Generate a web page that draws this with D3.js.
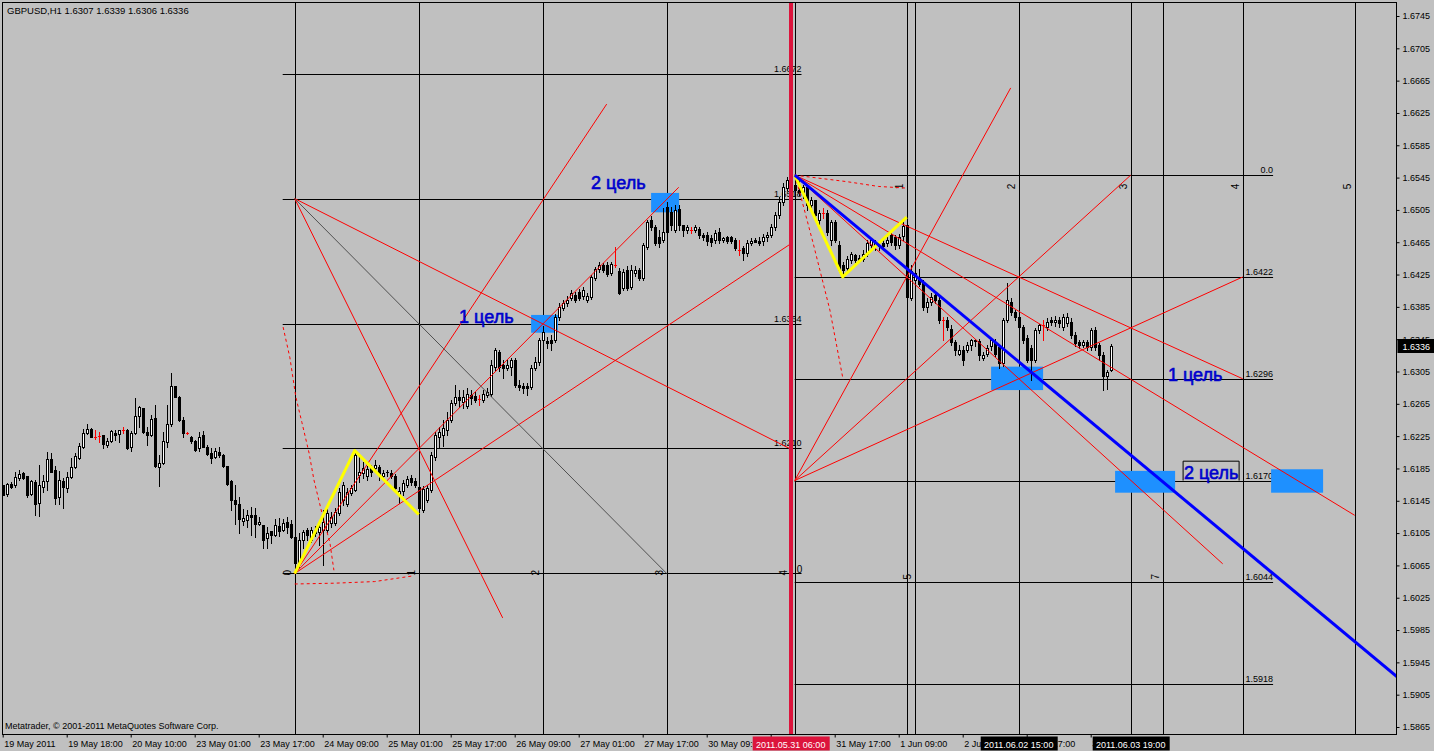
<!DOCTYPE html>
<html><head><meta charset="utf-8">
<script src="https://cdn.jsdelivr.net/npm/d3@7"></script>
<style>
body{margin:0;background:#c0c0c0;}
svg{display:block;font-family:"Liberation Sans",Arial,sans-serif;}
</style></head>
<body><svg id="c" width="1434" height="751"></svg>
<script>
// ---------------- DATA ----------------
const symbolTitle = "GBPUSD,H1  1.6307 1.6339 1.6306 1.6336";
const copyright = "Metatrader, \u00A9 2001-2011 MetaQuotes Software Corp.";
// hourly candles, [open, high, low, close] in pips (price*10000)
const ohlcPips = [
[16165,16165,16152,16152],[16153,16167,16151,16166],[16166,16168,16161,16162],[16165,16180,16162,16175],[16173,16183,16171,16178],
[16179,16181,16172,16173],[16176,16176,16150,16152],[16153,16171,16152,16169],[16168,16171,16127,16141],[16142,16189,16126,16165],
[16162,16177,16156,16169],[16169,16205,16158,16197],[16197,16204,16180,16181],[16183,16188,16141,16148],[16150,16182,16141,16171],
[16169,16173,16136,16162],[16161,16180,16156,16175],[16175,16198,16173,16187],[16187,16204,16185,16200],[16198,16217,16197,16213],
[16212,16234,16210,16229],[16229,16240,16228,16234],[16234,16235,16224,16224],[16224,16233,16221,16224],[16225,16230,16218,16225],
[16226,16227,16210,16215],[16214,16223,16212,16219],[16219,16232,16218,16231],[16229,16232,16220,16226],[16228,16233,16218,16232],
[16233,16236,16229,16233],[16232,16234,16209,16210],[16212,16231,16206,16229],[16229,16272,16228,16250],[16250,16262,16236,16261],
[16260,16260,16229,16230],[16230,16236,16214,16226],[16226,16251,16225,16246],[16248,16264,16187,16188],[16187,16202,16163,16192],
[16192,16230,16191,16219],[16218,16264,16212,16240],[16240,16303,16238,16287],[16287,16287,16273,16273],[16273,16275,16244,16245],
[16245,16249,16224,16229],[16229,16230,16228,16229],[16224,16225,16217,16219],[16219,16220,16207,16208],[16210,16230,16207,16224],
[16226,16231,16212,16212],[16212,16214,16202,16203],[16204,16210,16192,16198],[16199,16210,16198,16207],[16205,16212,16199,16202],
[16202,16203,16187,16188],[16188,16188,16165,16166],[16170,16171,16134,16146],[16146,16165,16116,16141],[16141,16150,16105,16122],
[16120,16135,16115,16124],[16121,16134,16113,16127],[16127,16137,16103,16125],[16127,16136,16100,16116],[16116,16125,16115,16119],
[16115,16115,16086,16097],[16099,16113,16086,16105],[16107,16107,16093,16103],[16103,16122,16101,16115],[16114,16124,16101,16108],
[16109,16122,16108,16118],[16119,16125,16105,16113],[16116,16121,16099,16100],[16100,16103,16066,16068],[16068,16105,16063,16097],
[16097,16109,16087,16106],[16109,16111,16097,16103],[16097,16112,16094,16109],[16109,16114,16101,16105],[16106,16119,16090,16112],
[16109,16134,16066,16119],[16109,16140,16106,16130],[16118,16131,16112,16125],[16118,16136,16115,16131],[16130,16161,16127,16156],
[16146,16168,16140,16165],[16141,16161,16139,16156],[16155,16165,16152,16161],[16158,16207,16157,16202],[16177,16203,16168,16181],
[16179,16193,16173,16186],[16176,16188,16171,16184],[16186,16189,16176,16181],[16186,16196,16181,16189],[16187,16189,16171,16177],
[16176,16183,16173,16179],[16181,16183,16176,16180],[16179,16183,16173,16176],[16176,16178,16158,16161],[16154,16162,16142,16157],
[16157,16171,16152,16167],[16165,16176,16162,16172],[16173,16177,16165,16168],[16169,16173,16162,16165],[16162,16165,16134,16136],
[16134,16163,16131,16160],[16146,16165,16144,16161],[16158,16205,16156,16202],[16199,16230,16196,16226],[16224,16236,16210,16230],
[16226,16245,16213,16235],[16233,16255,16226,16245],[16245,16270,16242,16266],[16266,16288,16264,16274],[16274,16282,16261,16270],
[16267,16282,16260,16274],[16262,16285,16260,16277],[16276,16282,16265,16272],[16275,16280,16267,16270],[16271,16276,16264,16271],
[16270,16282,16267,16277],[16276,16285,16273,16280],[16277,16319,16275,16313],[16311,16334,16307,16332],[16329,16332,16306,16311],
[16313,16319,16297,16309],[16309,16319,16307,16313],[16311,16322,16301,16319],[16319,16322,16286,16288],[16288,16295,16282,16286],
[16287,16291,16278,16285],[16287,16291,16276,16285],[16286,16313,16283,16309],[16309,16323,16307,16317],[16317,16347,16313,16344],
[16344,16361,16338,16354],[16343,16348,16334,16340],[16344,16350,16332,16340],[16344,16376,16342,16372],[16372,16390,16369,16385],
[16384,16394,16381,16390],[16390,16398,16386,16394],[16396,16406,16394,16402],[16400,16403,16391,16394],[16403,16407,16394,16396],
[16398,16410,16395,16406],[16394,16402,16391,16399],[16397,16425,16395,16422],[16421,16434,16418,16432],[16432,16440,16428,16437],
[16437,16439,16428,16431],[16437,16440,16423,16426],[16427,16440,16424,16438],[16437,16459,16434,16437],[16429,16433,16401,16402],
[16408,16432,16406,16428],[16431,16436,16406,16408],[16410,16437,16407,16431],[16427,16436,16423,16431],[16431,16433,16418,16421],
[16421,16464,16418,16462],[16459,16492,16457,16490],[16493,16497,16480,16484],[16484,16486,16462,16464],[16471,16480,16459,16464],
[16468,16507,16465,16478],[16509,16515,16474,16478],[16503,16509,16480,16486],[16480,16511,16478,16505],[16506,16511,16480,16486],
[16486,16486,16473,16480],[16480,16486,16477,16484],[16480,16484,16477,16480],[16480,16486,16478,16484],[16481,16484,16470,16474],
[16474,16477,16468,16472],[16474,16478,16462,16467],[16470,16474,16460,16465],[16468,16480,16464,16476],[16478,16483,16464,16468],
[16468,16472,16465,16470],[16471,16473,16464,16466],[16471,16473,16464,16466],[16468,16470,16455,16458],[16455,16468,16449,16455],
[16458,16460,16443,16452],[16452,16468,16448,16464],[16464,16470,16461,16467],[16468,16470,16465,16465],[16467,16471,16462,16464],
[16466,16475,16462,16471],[16471,16478,16467,16474],[16474,16488,16471,16484],[16484,16502,16480,16499],[16499,16521,16495,16515],
[16515,16538,16511,16533],[16532,16546,16530,16542],[16542,16547,16532,16536],[16536,16547,16527,16530],[16530,16542,16523,16527],
[16527,16536,16520,16533],[16533,16535,16505,16511],[16511,16521,16505,16517],[16517,16517,16495,16499],[16492,16505,16488,16501],
[16501,16507,16495,16501],[16501,16505,16474,16478],[16468,16493,16462,16490],[16490,16493,16465,16468],[16462,16467,16428,16431],
[16437,16440,16422,16431],[16433,16448,16431,16444],[16443,16453,16439,16450],[16449,16451,16440,16443],[16446,16449,16440,16443],
[16444,16455,16442,16451],[16450,16468,16448,16464],[16461,16470,16458,16468],[16461,16468,16455,16464],[16460,16467,16455,16462],
[16464,16468,16456,16460],[16464,16471,16460,16468],[16474,16478,16461,16465],[16471,16474,16457,16461],[16461,16475,16458,16471],
[16473,16490,16468,16485],[16486,16492,16393,16397],[16396,16437,16393,16430],[16418,16433,16406,16427],[16421,16432,16411,16413],
[16416,16418,16381,16385],[16385,16396,16379,16391],[16391,16402,16387,16397],[16400,16403,16390,16394],[16394,16397,16365,16369],
[16369,16372,16344,16369],[16369,16372,16356,16360],[16358,16362,16338,16341],[16341,16344,16325,16331],[16327,16338,16325,16332],
[16332,16336,16313,16319],[16332,16341,16329,16338],[16338,16345,16332,16344],[16343,16345,16337,16344],[16343,16345,16319,16325],
[16322,16329,16319,16325],[16327,16338,16324,16334],[16336,16345,16332,16344],[16341,16345,16324,16327],[16335,16338,16309,16315],
[16315,16371,16312,16369],[16369,16415,16366,16393],[16391,16396,16375,16379],[16379,16381,16369,16372],[16372,16375,16356,16360],
[16360,16362,16340,16344],[16346,16350,16317,16319],[16334,16338,16294,16319],[16319,16359,16317,16356],[16356,16364,16353,16362],
[16362,16369,16344,16362],[16360,16371,16356,16366],[16369,16372,16362,16366],[16366,16374,16361,16369],[16369,16372,16360,16365],
[16360,16376,16356,16372],[16365,16377,16361,16372],[16366,16371,16346,16350],[16350,16354,16337,16340],[16341,16344,16334,16338],
[16338,16344,16335,16341],[16341,16344,16331,16335],[16335,16359,16331,16356],[16356,16360,16331,16335],[16338,16340,16319,16325],
[16325,16329,16282,16300],[16300,16307,16283,16304],[16307,16339,16306,16336]
];
const lastPrice = 1.6336;
const priceTicks = [1.5865,1.5905,1.5945,1.5985,1.6025,1.6065,1.6105,1.6145,1.6185,1.6225,1.6265,1.6305,1.6345,1.6385,1.6425,1.6465,1.6505,1.6545,1.6585,1.6625,1.6665,1.6705,1.6745];
const timeTickBars = [0,16,32,48,64,80,96,112,128,144,160,176,192,208,224,240,256,272];
const timeTickLabels = ["19 May 2011","19 May 18:00","20 May 10:00","23 May 01:00","23 May 17:00","24 May 09:00","25 May 01:00","25 May 17:00","26 May 09:00","27 May 01:00","27 May 17:00","30 May 09:00","","31 May 17:00","1 Jun 09:00","2 Jun 01:00","2 Jun 17:00","3 Jun 09:00"];
const markerBars = [197,254,282];
const markerLabels = ["2011.05.31 06:00","2011.06.02 15:00","2011.06.03 19:00"];
const markerColors = ["#DC143C","#000000","#000000"];
// Gann box (left)
const leftVBars = [73,104,135,166];
const leftVNums = ["0","1","2","3","4"];
const leftVNumBars = [73,104,135,166,197];
const leftLevels = [1.6055,1.6210,1.6364,1.6519,1.6673];
const leftLevelText = ["","1.6210","1.6364","1.6518","1.6672"];
const leftLevelSpan = [70,199.7];
// Gann box (right)
const rightVBars = [198,226,228,254,282,290,310,338];
const rightTopNums = ["1","2","3","4","5"];
const rightTopNumBars = [226,254,282,310,338];
const rightBotNums = ["5","7"];
const rightBotNumBars = [228,290];
const rightLevels = [1.6548,1.6422,1.6296,1.6170,1.6044,1.5918];
const rightLevelText = ["0.0","1.6422","1.6296","1.6170","1.6044","1.5918"];
const rightLevelSpan = [198,317.6];
const redVBar = 197;
// trend lines [bar1, price1, bar2, price2]
const redLines = [
 [73,1.6519,125,1.6000],[73,1.6519,197,1.6209],[73,1.6055,151,1.6636],[73,1.6055,169,1.6533],[73,1.6055,197,1.6463],
 [198,1.6548,310,1.6296],[198,1.6548,338,1.6127],[198,1.6548,305,1.6067],[198,1.6170,252,1.6656],[198,1.6170,282,1.6548],[198,1.6170,310,1.6422]
];
const grayLines = [[73,1.6519,166,1.6055]];
const dashedBars1 = [70.1,71.8,73.3,74.8,76.6,77.8,79.8,81.8,82.8];
const dashedPrices1 = [1.6360,1.6322,1.6273,1.6242,1.6204,1.6171,1.6130,1.6093,1.6059];
const dashedBars2 = [73,83,93,102.5];
const dashedPrices2 = [1.6042,1.6043,1.6045,1.6052];
const dashedBars3 = [198,211,219,226];
const dashedPrices3 = [1.6548,1.6540,1.6534,1.6532];
const dashedBars4 = [198,199.3,202.6,206.8,210.1];
const dashedPrices4 = [1.6548,1.6526,1.6464,1.6381,1.6295];
const zigLeftBars = [73,88,104];
const zigLeftPrices = [1.6055,1.6207,1.6128];
const zigRightBars = [198,210,226];
const zigRightPrices = [1.6548,1.6422,1.6496];
const blueLine = [198,1.6548,348.6,1.5927];
// target zones [bar1, bar2, priceTop, priceBottom]
const zones = [[132.1,138.8,1.6375,1.6353],[162.1,169.1,1.6526,1.6502],[247.1,260.1,1.6311,1.6282],[278.1,293.1,1.6182,1.6155],[317.1,330.1,1.6184,1.6155]];
const targetText = ["1 цель","2 цель","1 цель","2 цель"];
const targetBars = [114.1,147.1,291.3,295.3];
const targetPrices = [1.6365,1.6531,1.6293,1.6172];
const labelBox = [295.1,309.1,1.6194,1.6170];

// ---------------- CHART ----------------
const svg = d3.select("#c");
const L=2.5, T=2.5, R=1396.5, B=734.5;
const x = d3.scaleLinear().domain([0,348.325]).range([2.7,1396]);
const y = d3.scaleLinear().domain([1.5865,1.6745]).range([727,16]);
const P = v => v/10000;

svg.append("rect").attr("width",1434).attr("height",751).attr("fill","#c0c0c0");
svg.append("defs").append("clipPath").attr("id","clip").append("rect")
  .attr("x",L).attr("y",T).attr("width",R-L).attr("height",B-T);
const g = svg.append("g").attr("clip-path","url(#clip)");

const line = d3.line().x(d=>x(d[0])).y(d=>y(d[1]));

// vertical gann lines
g.selectAll(".vl").data(leftVBars.concat(rightVBars)).join("line")
  .attr("x1",d=>Math.round(x(d))+0.5).attr("x2",d=>Math.round(x(d))+0.5)
  .attr("y1",T).attr("y2",B).attr("stroke","#000").attr("stroke-width",1);
// horizontal levels
g.selectAll(".hl").data(leftLevels).join("line")
  .attr("x1",x(leftLevelSpan[0])).attr("x2",x(leftLevelSpan[1]))
  .attr("y1",d=>Math.round(y(d))+0.5).attr("y2",d=>Math.round(y(d))+0.5).attr("stroke","#000");
g.selectAll(".hr").data(rightLevels).join("line")
  .attr("x1",x(rightLevelSpan[0])).attr("x2",x(rightLevelSpan[1]))
  .attr("y1",d=>Math.round(y(d))+0.5).attr("y2",d=>Math.round(y(d))+0.5).attr("stroke","#000");
// level labels
g.selectAll(".ll").data(leftLevels).join("text")
  .attr("x",x(leftLevelSpan[1])).attr("y",d=>Math.round(y(d))-2).attr("text-anchor","end")
  .attr("font-size",9).attr("fill","#000").text((d,i)=>leftLevelText[i]);
g.selectAll(".lr").data(rightLevels).join("text")
  .attr("x",x(rightLevelSpan[1])).attr("y",d=>Math.round(y(d))-2).attr("text-anchor","end")
  .attr("font-size",9).attr("fill","#000").text((d,i)=>rightLevelText[i]);
// rotated numbers
function rotNum(bars, labels, yStart){
  bars.forEach((b,i)=>{
    const xx = x(b)-4;
    g.append("text").attr("transform",`translate(${xx},${yStart}) rotate(-90)`)
      .attr("font-size",10).attr("fill","#000").text(labels[i]);
  });
}
rotNum(leftVNumBars, leftVNums, y(leftLevels[0])+2);
rotNum(rightTopNumBars, rightTopNums, y(rightLevels[0])+14);
rotNum(rightBotNumBars, rightBotNums, y(leftLevels[0])+6);
g.append("text").attr("x",x(198)+2).attr("y",y(leftLevels[0])).attr("font-size",10).text("0");

// target zones
g.selectAll(".zone").data(zones).join("rect")
  .attr("x",d=>x(d[0])).attr("width",d=>x(d[1])-x(d[0]))
  .attr("y",d=>y(d[2])).attr("height",d=>y(d[3])-y(d[2])).attr("fill","#1E90FF");

// candles
const cg = g.append("g").attr("shape-rendering","crispEdges");
ohlcPips.forEach((c,i)=>{
  const o=P(c[0]),h=P(c[1]),l=P(c[2]),cl=P(c[3]);
  const cx = Math.round(x(i))+0.5;
  const doji = c[0]===c[3];
  const col = doji ? "#FF0000" : "#000";
  cg.append("line").attr("x1",cx).attr("x2",cx).attr("y1",Math.round(y(h))).attr("y2",Math.round(y(l))+1).attr("stroke",col);
  if(doji){
    const yy=Math.round(y(o))+0.5;
    cg.append("line").attr("x1",cx-1.5).attr("x2",cx+1.5).attr("y1",yy).attr("y2",yy).attr("stroke",col);
  } else {
    const yt=Math.round(y(Math.max(o,cl))), yb=Math.round(y(Math.min(o,cl)));
    if(cl>o){
      cg.append("rect").attr("x",cx-1).attr("width",2).attr("y",yt+0.5).attr("height",Math.max(0,yb-yt))
        .attr("fill","#fff").attr("stroke","#000");
    } else {
      cg.append("rect").attr("x",cx-1.5).attr("width",3).attr("y",yt).attr("height",Math.max(1,yb-yt+1)).attr("fill","#000");
    }
  }
});

// trend lines
g.selectAll(".rl").data(redLines).join("line")
  .attr("x1",d=>x(d[0])).attr("y1",d=>y(d[1])).attr("x2",d=>x(d[2])).attr("y2",d=>y(d[3]))
  .attr("stroke","#FF0000").attr("stroke-width",1);
g.selectAll(".gl").data(grayLines).join("line")
  .attr("x1",d=>x(d[0])).attr("y1",d=>y(d[1])).attr("x2",d=>x(d[2])).attr("y2",d=>y(d[3]))
  .attr("stroke","#505050").attr("stroke-width",1);
[[dashedBars1,dashedPrices1],[dashedBars2,dashedPrices2],[dashedBars3,dashedPrices3],[dashedBars4,dashedPrices4]].forEach(([bs,ps])=>{
  g.append("path").attr("d",line(bs.map((b,i)=>[b,ps[i]]))).attr("fill","none")
    .attr("stroke","#FF0000").attr("stroke-dasharray","3,3");
});
// zigzags
[[zigLeftBars,zigLeftPrices],[zigRightBars,zigRightPrices]].forEach(([bs,ps])=>{
  g.append("path").attr("d",line(bs.map((b,i)=>[b,ps[i]]))).attr("fill","none")
    .attr("stroke","#FFFF00").attr("stroke-width",3).attr("stroke-linejoin","round");
});
// blue line
g.append("line").attr("x1",x(blueLine[0])).attr("y1",y(blueLine[1])).attr("x2",x(blueLine[2])).attr("y2",y(blueLine[3]))
  .attr("stroke","#0000FF").attr("stroke-width",3);

// label box around right "2 цель"
g.append("path").attr("d",`M${x(labelBox[0])},${y(labelBox[3])} V${y(labelBox[2])} H${x(labelBox[1])} V${y(labelBox[3])}`)
  .attr("fill","#c0c0c0").attr("stroke","#000");
// target texts
g.selectAll(".tt").data(targetText).join("text")
  .attr("x",(d,i)=>x(targetBars[i])).attr("y",(d,i)=>y(targetPrices[i]))
  .attr("font-size",18).attr("fill","#0000CD").attr("stroke","#0000CD").attr("stroke-width",0.6).text(d=>d);

// red vertical line
g.append("rect").attr("x",Math.round(x(redVBar))-2).attr("width",4).attr("y",T).attr("height",B-T).attr("fill","#DC143C");

// title & copyright
svg.append("text").attr("x",7).attr("y",14).attr("font-size",9.5).text(symbolTitle);
svg.append("text").attr("x",5).attr("y",729).attr("font-size",9).text(copyright);

// frame
svg.append("rect").attr("x",L).attr("y",T).attr("width",R-L).attr("height",B-T).attr("fill","none").attr("stroke","#000");

// price axis
const ya = svg.append("g").attr("transform",`translate(${R},0)`)
  .call(d3.axisRight(y).tickValues(priceTicks).tickFormat(d3.format(".4f")).tickSize(3).tickSizeOuter(0).tickPadding(3));
ya.select(".domain").remove();
ya.selectAll("text").attr("font-size",9).attr("font-family","Liberation Sans, Arial, sans-serif").attr("fill","#000");
ya.selectAll("line").attr("stroke","#000");
// last price box
const ly = Math.round(y(lastPrice));
svg.append("rect").attr("x",R+1).attr("y",ly-7).attr("width",1434-R).attr("height",14).attr("fill","#000");
svg.append("text").attr("x",R+6).attr("y",ly+3.5).attr("font-size",9).attr("fill","#fff").text(d3.format(".4f")(lastPrice));

// time axis
const xa = svg.append("g").attr("transform",`translate(0,${B})`)
  .call(d3.axisBottom(x).tickValues(timeTickBars).tickFormat((d,i)=>timeTickLabels[i]).tickSize(3).tickSizeOuter(0).tickPadding(3));
xa.select(".domain").remove();
xa.selectAll("text").attr("font-size",9).attr("font-family","Liberation Sans, Arial, sans-serif").attr("text-anchor","start").attr("dx",1).attr("fill","#000");
xa.selectAll("line").attr("stroke","#000");
// highlighted time markers
markerBars.forEach((b,i)=>{
  const cx = x(b);
  svg.append("rect").attr("x",cx-38).attr("y",B+2).attr("width",77).attr("height",14).attr("fill",markerColors[i]);
  svg.append("text").attr("x",cx).attr("y",B+13).attr("text-anchor","middle").attr("font-size",9).attr("fill","#fff").text(markerLabels[i]);
});
</script></body></html>
